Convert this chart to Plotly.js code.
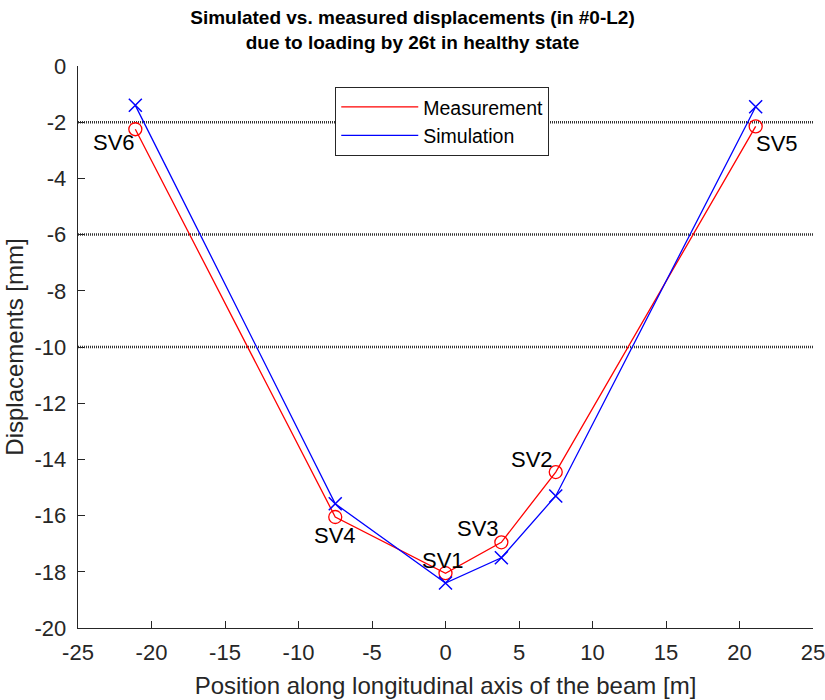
<!DOCTYPE html>
<html>
<head>
<meta charset="utf-8">
<script src="https://cdn.plot.ly/plotly-3.0.1.min.js"></script>
<style>html,body{margin:0;padding:0;background:#fff;}#chart{width:825px;height:700px;}</style>
</head>
<body>
<div id="chart"></div>
<script>
// Sensor labels, sorted by position along the beam
var sensorLabels = ["SV6", "SV4", "SV1", "SV3", "SV2", "SV5"];
// Positions along longitudinal axis [m]
var positions = [-21.1, -7.5, 0, 3.8, 7.5, 21.1];
// Measured displacements [mm]
var measured = [-2.25, -16.05, -18.05, -16.95, -14.45, -2.15];
// Simulated displacements [mm]
var simulated = [-1.4, -15.58, -18.4, -17.5, -15.3, -1.45];
// Reference (dotted) horizontal levels [mm]
var levels = [-2, -6, -10];
// Tick values and labels
var xTicks = [-25, -20, -15, -10, -5, 0, 5, 10, 15, 20, 25];
var xTickText = ["-25", "-20", "-15", "-10", "-5", "0", "5", "10", "15", "20", "25"];
var yTicks = [0, -2, -4, -6, -8, -10, -12, -14, -16, -18, -20];
var yTickText = ["0", "-2", "-4", "-6", "-8", "-10", "-12", "-14", "-16", "-18", "-20"];

// label offsets (pixels) for annotations
var labelShift = [[-21, -13], [0, -18], [-3, 13], [-23, 14], [-24, 13], [21, -17]];

var font = "Liberation Sans, Arial, Helvetica, sans-serif";

var traces = [
  {x: positions, y: measured, mode: "lines", name: "Measurement",
   line: {color: "#ff0000", width: 1.3}, hoverinfo: "skip"},
  {x: positions, y: simulated, mode: "lines", name: "Simulation",
   line: {color: "#0000ff", width: 1.3}, hoverinfo: "skip"},
  {x: positions, y: measured, mode: "markers", showlegend: false,
   marker: {symbol: "circle-open", size: 13, color: "#ff0000", line: {width: 1.3, color: "#ff0000"}}},
  {x: positions, y: simulated, mode: "markers", showlegend: false,
   marker: {symbol: "x-thin-open", size: 13, color: "#0000ff", line: {width: 1.5, color: "#0000ff"}}}
];

var shapes = levels.map(function (v) {
  return {type: "line", xref: "paper", x0: 0, x1: 1, yref: "y", y0: v, y1: v,
          line: {color: "#333333", width: 2.5, dash: "1px,1px"}, layer: "below"};
});

var annotations = sensorLabels.map(function (s, i) {
  return {x: positions[i], y: measured[i], xref: "x", yref: "y", text: s, showarrow: false,
          xshift: labelShift[i][0], yshift: labelShift[i][1],
          font: {family: font, size: 22, color: "#000"}};
});

var layout = {
  width: 825, height: 700,
  margin: {l: 78, r: 12, t: 66, b: 72},
  paper_bgcolor: "#fff", plot_bgcolor: "#fff",
  font: {family: font, size: 22, color: "#262626"},
  title: {text: "<b>Simulated vs. measured displacements (in #0-L2)<br>due to loading by 26t in healthy state</b>",
          font: {family: font, size: 19, color: "#000"}, x: 0.5, xanchor: "center",
          yref: "container", y: 0.966, yanchor: "top"},
  xaxis: {range: [-25, 25], tickvals: xTicks, ticktext: xTickText, ticks: "inside", ticklen: 7, tickcolor: "#262626",
          showgrid: false, zeroline: false, showline: true, linecolor: "#262626", linewidth: 1.3,
          mirror: false, tickfont: {size: 22, color: "#262626"}, ticklabelstandoff: 4, automargin: false,
          ticklabeloverflow: "allow",
          title: {text: "Position along longitudinal axis of the beam [m]", font: {size: 24, color: "#262626"}, standoff: 13}},
  yaxis: {range: [-20, 0], tickvals: yTicks, ticktext: yTickText, ticks: "inside", ticklen: 7, tickcolor: "#262626",
          showgrid: false, zeroline: false, showline: true, linecolor: "#262626", linewidth: 1.3,
          mirror: false, tickfont: {size: 22, color: "#262626"}, ticklabelstandoff: 6, automargin: false,
          ticklabeloverflow: "allow",
          title: {text: "Displacements [mm]", font: {size: 24, color: "#262626"}, standoff: 4}},
  legend: {x: 0.35, y: 0.963, xanchor: "left", yanchor: "top", bgcolor: "#fff", itemwidth: 77,
           bordercolor: "#262626", borderwidth: 1, font: {size: 19.5, color: "#000"}},
  shapes: shapes,
  annotations: annotations,
  showlegend: true
};

Plotly.newPlot("chart", traces, layout, {displayModeBar: false, staticPlot: true});
</script>
</body>
</html>
